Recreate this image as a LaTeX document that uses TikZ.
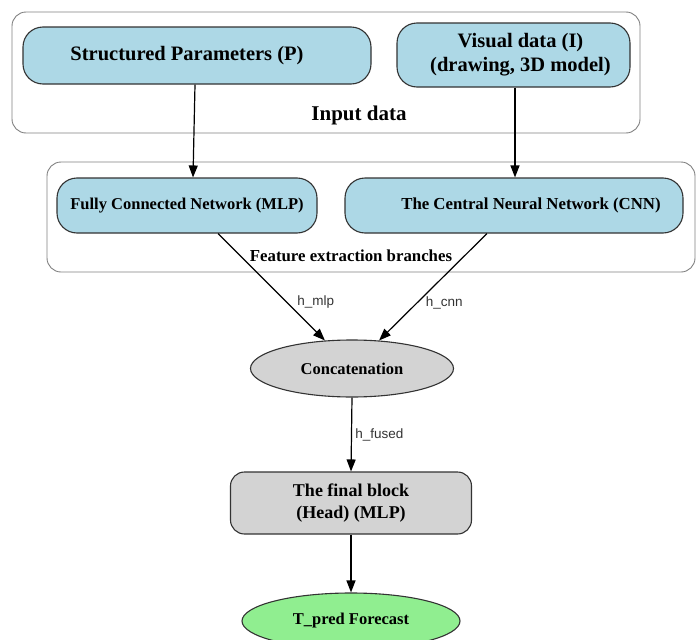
\documentclass[tikz,border=0pt]{standalone}
\usepackage{fontspec}
\setmainfont{Liberation Serif}
\setsansfont{Liberation Sans}
\usetikzlibrary{arrows.meta,shapes.geometric}
\definecolor{boxblue}{HTML}{ADD8E6}
\definecolor{boxgrey}{HTML}{D3D3D3}
\definecolor{boxgreen}{HTML}{90EE90}
\tikzset{
  cluster/.style={draw=black!50, rounded corners=14pt, line width=0.9pt},
  bluebox/.style={draw=black!80, fill=boxblue, rounded corners=20pt, line width=1.1pt, align=center},
  greybox/.style={draw=black!80, fill=boxgrey, rounded corners=14pt, line width=1.1pt, align=center, font=\bfseries\fontsize{18}{22}\selectfont},
  ellnode/.style={ellipse, draw=black!80, line width=1.1pt, inner sep=0pt},
  conn/.style={draw=black, line width=1.2pt, -{Triangle[length=12pt,width=9pt]}},
  elabel/.style={font=\sffamily\fontsize{13.5}{15}\selectfont, text=black!80}
}
\begin{document}
\begin{tikzpicture}[x=1pt,y=-1pt]
\useasboundingbox (0,0) rectangle (697,640);
% clusters
\draw[cluster] (12,12) rectangle (640,133);
\node[font=\bfseries\fontsize{21}{24}\selectfont] (inlab) at (359,115) {Input data};
\draw[cluster] (47,162) rectangle (695,272);
\node[font=\bfseries\fontsize{16.8}{19}\selectfont] (felab) at (351,256) {Feature extraction branches};
% top boxes
\node[bluebox, minimum width=348pt, minimum height=57pt, font=\bfseries\fontsize{20.5}{24}\selectfont] (P) at (197,55.5) {\hspace*{-20pt}Structured Parameters (P)};
\node[bluebox, minimum width=233pt, minimum height=64pt, font=\bfseries\fontsize{20.5}{24}\selectfont] (I) at (513.5,55) {\hspace*{14pt}\begin{tabular}{@{}c@{}}Visual data (I)\\(drawing, 3D model)\end{tabular}};
% second row
\node[bluebox, minimum width=260pt, minimum height=55pt, font=\bfseries\fontsize{16.5}{19}\selectfont] (MLP) at (187,205.5) {Fully Connected Network (MLP)};
\node[bluebox, minimum width=338pt, minimum height=55pt, font=\bfseries\fontsize{16.8}{19}\selectfont] (CNN) at (514,205.5) {\hspace*{34pt}The Central Neural Network (CNN)};
% concatenation
\node[ellnode, fill=boxgrey, minimum width=203pt, minimum height=57pt, font=\bfseries\fontsize{16.5}{19}\selectfont] (cat) at (352,368.5) {Concatenation};
% final block
\node[greybox, minimum width=241pt, minimum height=62pt] (head) at (351,503) {The final block\\(Head) (MLP)};
% forecast
\node[ellnode, fill=boxgreen, minimum width=218pt, minimum height=56pt, font=\bfseries\fontsize{16.5}{19}\selectfont] (pred) at (351,621) {T\_pred Forecast};
% connectors
\draw[conn] ([xshift=-2pt]P.south) -- ([xshift=6pt]MLP.north);
\draw[conn] ([xshift=1.5pt]I.south) -- ([xshift=1pt]CNN.north);
\draw[conn] ([xshift=31pt]MLP.south) -- (cat.134) node[elabel, pos=0.64, right=7pt] {h\_mlp};
\draw[conn] ([xshift=-27pt]CNN.south) -- (cat.46) node[elabel, pos=0.65, right=5pt] {h\_cnn};
\draw[conn] (cat.south) -- (head.north) node[elabel, midway, right=0pt] {h\_fused};
\draw[conn] (head.south) -- (pred.north);
\end{tikzpicture}
\end{document}
